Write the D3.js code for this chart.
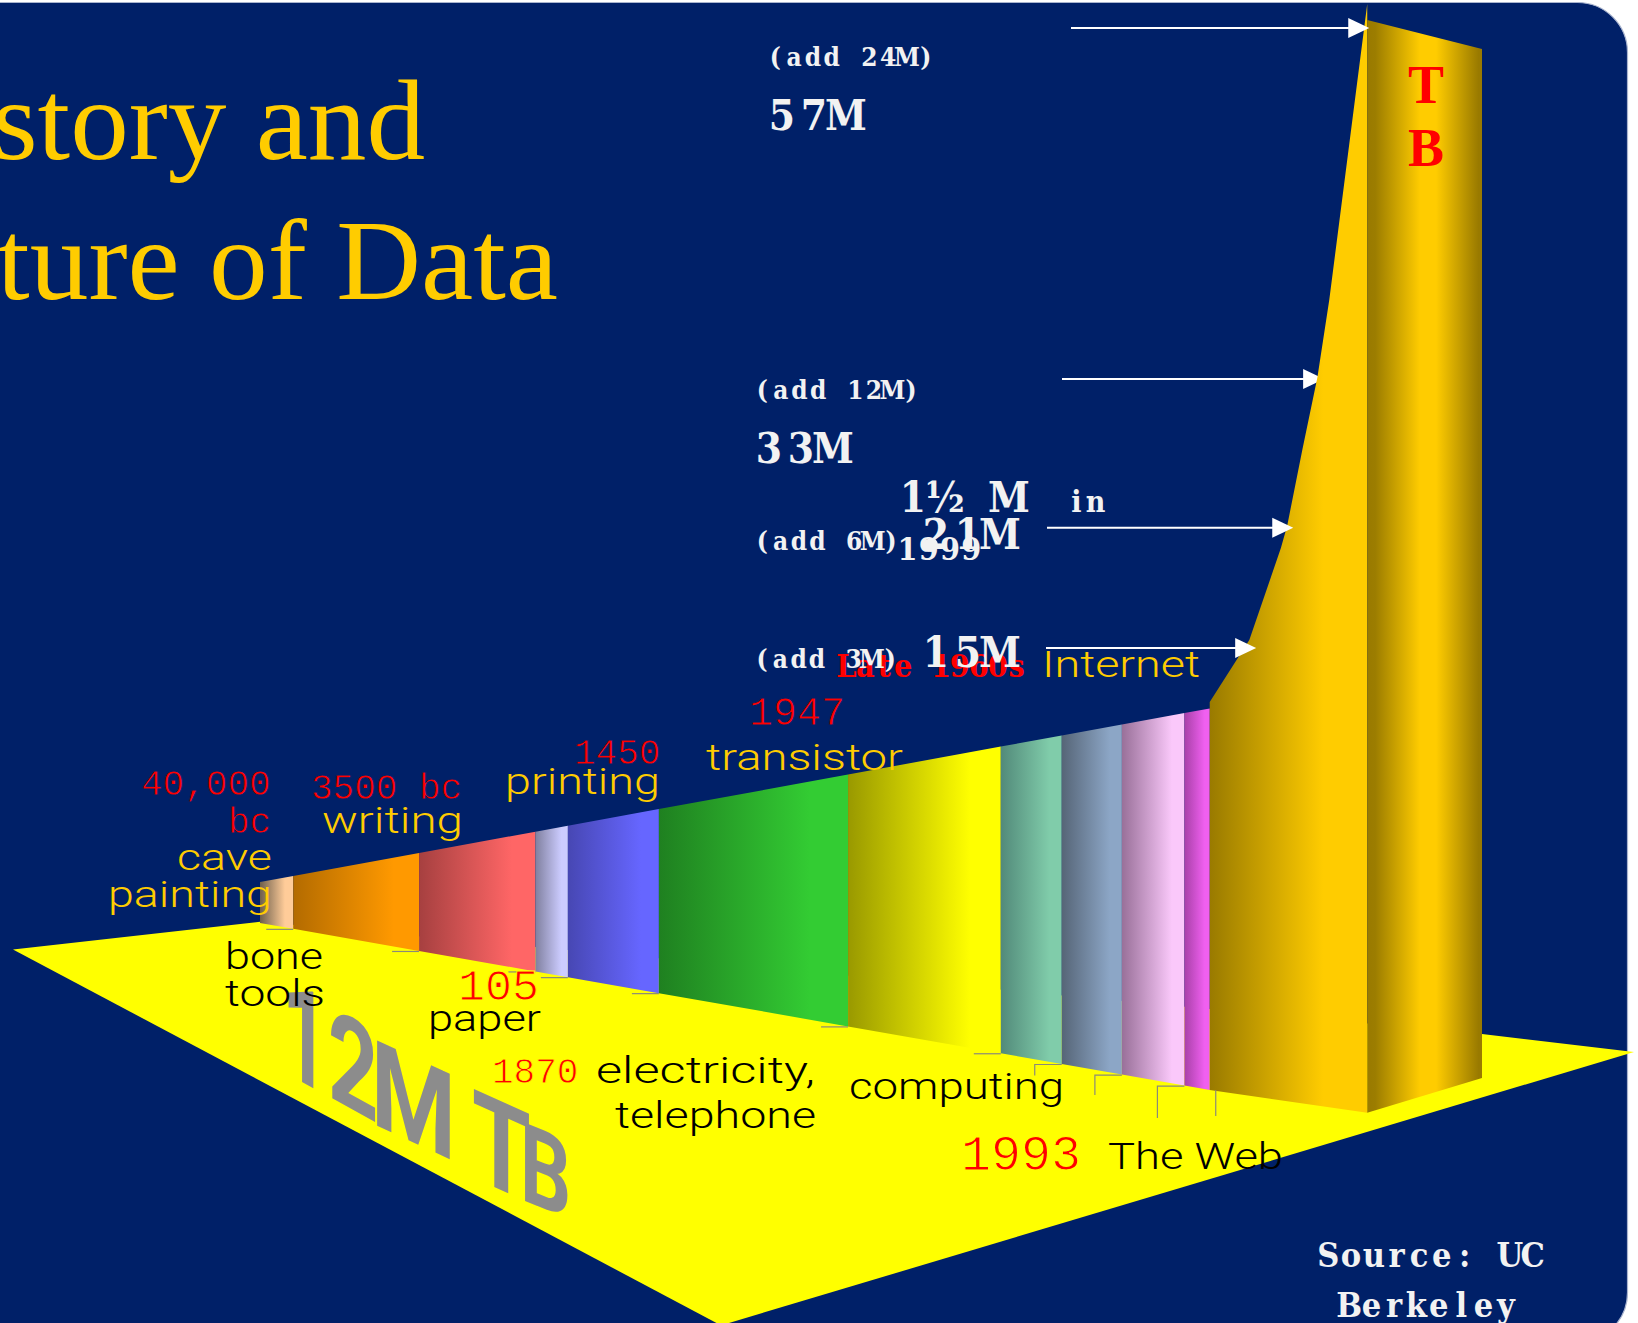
<!DOCTYPE html>
<html>
<head>
<meta charset="utf-8">
<script src="https://cdn.jsdelivr.net/npm/d3@7/dist/d3.min.js"></script>
<style>html,body{margin:0;padding:0;background:#fff;overflow:hidden}svg{display:block}</style>
</head>
<body>
<div id="chart"></div>
<script>
// ---- data ----
const eraNames = ["cave painting / bone tools","writing","paper","printing","electricity, telephone","transistor","computing","1970s","1980s","1990s","The Web"];
// cumulative data volume (million TB) at every era boundary
const eraEdges = [0, 0.42, 2.01, 3.48, 3.89, 5.04, 7.43, 9.36, 10.13, 10.89, 11.68, 12];
const eraColors = ["#FFCC99","#FF9900","#FF6666","#CCCCFF","#6666FF","#33CC33","#FFFF00","#80CCAA","#8CA6C6","#FAC8FA","#F060F0"];
const eraDarks  = ["#6E5F4C","#B36B00","#A64040","#80809F","#4747B3","#1F8020","#999900","#528A7A","#566577","#997099","#A840A8"];
// the tower's climbing edge: timeline position and total millions of TB
const towerEdgeT = [12, 12.5, 12.9, 12.98, 13.17, 13.36, 13.51, 13.99];
const towerEdgeM = [12, 15.4, 20, 21.2, 27.3, 33.1, 38.4, 58.6];
const towerFaces = [12, 13.99, 15.44];
const arrowTotals = [57, 33, 21, 15];
const arrowAdds = ["(add 24M)","(add 12M)","(add 6M)","(add 3M)"];
const arrowTexts = ["57M","33M","21M","15M"];
const titleLines = ["story and","ture of Data"];
const redDates = ["40,000","bc","3500 bc","1450","105","1870","1947","1993"];
const yellowWords = ["cave","painting","writing","printing","transistor","Internet"];
const blackWords = ["bone","tools","paper","electricity,","telephone","computing","The Web"];
const webNotes = ["1½ M","in","1999"];
const sourceLines = ["Source: UC","Berkeley"];
const floorText = ["1","2","M","T","B"];
const towerLetters = ["T","B"];
const lateText = "Late 1960s";

// ---- scales ----
const W = 1638, H = 1323;
const x = d3.scaleLinear().domain([0, 15.44]).range([260, 1482]);
const yTop = d3.scaleLinear().domain([0, 12]).range([882, 708.4]);
const yBottom = d3.scaleLinear().domain([0, 12]).range([923, 1090]);
const yTotal = d3.scaleLinear().domain([12, 15, 21, 33, 57, 58.6]).range([702, 648, 527.7, 379, 28, 4]);
const yFrontBase = d3.scaleLinear().domain([12, 13.99]).range([1090, 1112.7]);
const ySideTop = d3.scaleLinear().domain([13.99, 15.44]).range([20, 49]);
const ySideBase = d3.scaleLinear().domain([13.99, 15.44]).range([1112.7, 1078]);

const navy = "#002068", gold = "#FFCC00", yellow = "#FFFF00";
const svg = d3.select("#chart").append("svg").attr("width", W).attr("height", H);
const defs = svg.append("defs");

function gradient(id, stops) {
  const g = defs.append("linearGradient").attr("id", id).attr("x1", 0).attr("x2", 1).attr("y1", 0).attr("y2", 0);
  stops.forEach(s => g.append("stop").attr("offset", s[0]).attr("stop-color", s[1]));
}

// panel
svg.append("rect").attr("width", W).attr("height", H).attr("fill", "#fff");
svg.append("rect").attr("x", -60).attr("y", 2.5).attr("width", 1687.5).attr("height", 1340).attr("rx", 50)
  .attr("fill", navy).attr("stroke", "#A9B4CE").attr("stroke-width", 1.2);

// floor
const floorPts = [[13, 949.5], [260, 921.7], [x(15.44), 1034], [1634, 1052], [729, 1323], [716.5, 1323]];
svg.append("path").attr("d", d3.line()(floorPts) + "Z").attr("fill", yellow);

// perspective "12M TB" lying on the floor
const glyphPlace = [
  {a: .80, s: .55, d: 1.35, e: 282, f: 1071},
  {a: .88, s: .55, d: 1.28, e: 328, f: 1096},
  {a: .97, s: .46, d: 1.20, e: 371, f: 1123},
  {a: .95, s: .45, d: 1.25, e: 472, f: 1177},
  {a: .80, s: .40, d: 1.10, e: 520, f: 1199}
];
svg.append("g").selectAll("text").data(floorText).join("text")
  .attr("transform", (d, i) => { const p = glyphPlace[i]; return `matrix(${p.a},${p.a * p.s},0,${p.d},${p.e},${p.f})`; })
  .attr("font-family", "Roboto,sans-serif")
  .attr("font-weight", "bold").attr("font-size", 100).attr("fill", "#8C8C8C").text(d => d);

// era bars
eraNames.forEach((n, i) => gradient("era" + i, [[0, eraDarks[i]], [i === 0 ? .75 : .8, eraColors[i]], [1, eraColors[i]]]));
svg.append("g").selectAll("path").data(eraNames).join("path")
  .attr("fill", (d, i) => `url(#era${i})`)
  .attr("d", (d, i) => {
    const a = eraEdges[i], b = eraEdges[i + 1];
    return d3.line()([[x(a), yTop(a)], [x(b), yTop(b)], [x(b), yBottom(b)], [x(a), yBottom(a)]]) + "Z";
  });

// arrows
const arrowFrom = [1071, 1062, 1047, 1046];
const arrowTipDX = [5, 7, 7, 11.5];
const tipT = d3.scaleLinear().domain(towerEdgeM).range(towerEdgeT);
function arrow(i) {
  const m = arrowTotals[i], yy = yTotal(m), tx = x(tipT(m)) + arrowTipDX[i];
  svg.append("line").attr("x1", arrowFrom[i]).attr("x2", tx - 10).attr("y1", yy).attr("y2", yy).attr("stroke", "#fff").attr("stroke-width", 2);
  svg.append("path").attr("fill", "#fff").attr("d", d3.line()([[tx, yy], [tx - 21, yy - 10], [tx - 21, yy + 10]]) + "Z");
}
arrow(1);   // this one runs behind the tower

// tower
gradient("front", [[0, "#997A00"], [.72, gold], [1, gold]]);
gradient("side", [[0, "#997A00"], [.07, "#9C7D00"], [.46, gold], [.6, gold], [.97, "#997A00"], [1, "#997A00"]]);
const edge = towerEdgeT.map((t, i) => [x(t), yTotal(towerEdgeM[i])]);
svg.append("path").attr("fill", "url(#front)")
  .attr("d", d3.line()([...edge, [x(towerFaces[1]), yFrontBase(towerFaces[1])], [x(towerFaces[0]), yFrontBase(towerFaces[0])]]) + "Z");
svg.append("path").attr("fill", "url(#side)")
  .attr("d", d3.line()([[x(towerFaces[1]), ySideTop(towerFaces[1])], [x(towerFaces[2]), ySideTop(towerFaces[2])],
    [x(towerFaces[2]), ySideBase(towerFaces[2])], [x(towerFaces[1]), ySideBase(towerFaces[1])]]) + "Z");

// leader ticks under the era boundaries
const tickDrops = [0, 0, 0, 0, 0, 0, 0, 11, 20, 32];
const ticks = svg.append("g").attr("fill", "none").attr("stroke", "#8A8A7A").attr("stroke-width", 1.2);
eraEdges.slice(1, 11).forEach((t, i) => {
  const bx = x(t), by = yBottom(t) + 0.5;
  ticks.append("path").attr("d", d3.line()([[bx - 27, by + tickDrops[i]], [bx - 27, by], [bx, by]]));
});
ticks.append("path").attr("d", d3.line()([[x(12) + 6, yBottom(12)], [x(12) + 6, yBottom(12) + 26]]));

const red = "#FF0000", white = "#F2F2F2", black = "#000";
const serif = "'Liberation Serif',serif", sans = "Roboto,sans-serif",
      mono = "'Liberation Mono',monospace", slab = "'DejaVu Serif Condensed','DejaVu Serif',serif";

// text helpers: left x, baseline y, drawn width
function label(t, lx, by, size, w, fill, family, weight) {
  return svg.append("text").attr("x", lx).attr("y", by).attr("font-size", size).attr("fill", fill)
    .attr("font-family", family).attr("font-weight", weight || "normal")
    .attr("textLength", w).attr("lengthAdjust", "spacingAndGlyphs").attr("xml:space", "preserve").text(t);
}
// fixed-pitch setting of a slab font: one text element, each character centred in its cell
function cells(t, lx, by, size, cell, fill) {
  const chars = Array.from(t);
  return svg.append("text").attr("y", by).attr("font-size", size).attr("fill", fill)
    .attr("x", chars.map((c, i) => lx + (i + .5) * cell).join(" "))
    .attr("font-family", slab).attr("font-weight", "bold").attr("text-anchor", "middle")
    .attr("xml:space", "preserve").text(t);
}
// red dates: thin strokes, trimmed with a hairline of the ground colour
function date(t, lx, by, size, ground) {
  return svg.append("text").attr("x", lx).attr("y", by).attr("font-size", size).attr("fill", red)
    .attr("stroke", ground).attr("stroke-width", size * .022)
    .attr("font-family", mono).attr("xml:space", "preserve").text(t);
}

// title
label(titleLines[0], -8, 158.5, 114, 433, gold, serif);
label(titleLines[1], -3, 299, 114, 561, gold, serif);

// era labels
date(redDates[0], 141, 795, 36, navy);
date(redDates[1], 228, 833, 36, navy);
label(yellowWords[0], 177, 870, 37, 95, gold, sans, 300);
label(yellowWords[1], 108, 906.5, 37, 164, gold, sans, 300);
date(redDates[2], 311, 798.5, 36, navy);
label(yellowWords[2], 322, 833, 37, 141, gold, sans, 300);
date(redDates[3], 574, 763.5, 36, navy);
label(yellowWords[3], 505, 794, 37, 155, gold, sans, 300);
date(redDates[6], 749, 725, 40, navy);
label(yellowWords[4], 706, 769.5, 36, 197, gold, sans, 300);
label(blackWords[0], 225, 969, 37, 98, black, sans, 300);
label(blackWords[1], 225, 1006, 37, 100, black, sans, 300);
date(redDates[4], 458, 1000, 45, yellow);
label(blackWords[2], 428, 1031, 37, 113, black, sans, 300);
date(redDates[5], 492, 1083, 36, yellow);
label(blackWords[3], 596, 1083, 37, 219, black, sans, 300);
label(blackWords[4], 615, 1128, 37, 201, black, sans, 300);
label(blackWords[5], 849, 1098.5, 37, 215, black, sans, 300);
date(redDates[7], 961, 1170, 50, yellow);
label(blackWords[6], 1108, 1169, 37, 175, black, sans, 300);

// remaining arrows, above the tower
[0, 2, 3].forEach(arrow);

// late 1960s sits under the white totals
cells(lateText, 837, 677, 32, 18.9, red);
label(yellowWords[5], 1042, 677, 36, 158, gold, sans, 300);

// added / total labels
cells(arrowAdds[0], 766, 66, 26, 18.8, white);
cells(arrowTexts[0], 766, 130, 42, 32, white);
cells(arrowAdds[1], 753, 399, 26, 18.6, white);
cells(arrowTexts[1], 753, 463, 42, 32, white);
cells(arrowAdds[2], 753, 550, 26, 18.4, white);
cells(arrowTexts[2], 920, 549, 42, 32, white);
cells(arrowAdds[3], 753, 668, 26, 18.3, white);
cells(arrowTexts[3], 920, 667, 42, 32, white);

// web note
cells(webNotes[0], 897, 512, 42, 32, white);
cells(webNotes[1], 1067, 512, 30, 19, white);
cells(webNotes[2], 897, 560, 32, 21.2, white);
svg.append("circle").attr("cx", 931).attr("cy", 545).attr("r", 7).attr("fill", white);

// source
cells(sourceLines[0], 1317, 1267, 34, 22.7, white);
cells(sourceLines[1], 1338, 1317, 34, 22.4, white);

// tower letters
label(towerLetters[0], 1408, 102.7, 54, 36, red, serif, "bold");
label(towerLetters[1], 1408, 166, 54, 36, red, serif, "bold");
</script>
</body>
</html>
